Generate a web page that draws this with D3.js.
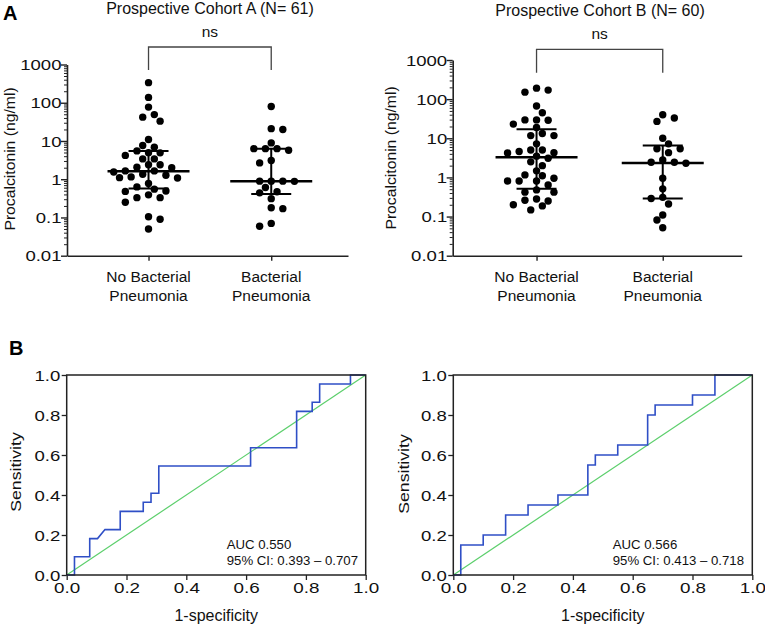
<!DOCTYPE html>
<html>
<head>
<meta charset="utf-8">
<script src="https://cdn.jsdelivr.net/npm/d3@7"></script>
<style>
  html, body { margin: 0; padding: 0; background: #fff; }
  svg { display: block; font-family: "Liberation Sans", Arial, Helvetica, sans-serif; }
</style>
</head>
<body>
<svg id="chart" width="765" height="628"></svg>
<script>
// ---------------- DATA ----------------
const categories = ["No Bacterial|Pneumonia", "Bacterial|Pneumonia"];
const cohortTitles = ["Prospective Cohort A (N= 61)", "Prospective Cohort B (N= 60)"];
const sigLabels = ["ns", "ns"];

const cohortA_noBac = [335, 138, 77, 49, 42, 33, 10.9, 7.6, 6.9, 5.5, 4.95, 4.9, 4.2, 3.4, 3.4, 2.4, 2.4, 2.05, 2.0, 1.65,
  1.65, 1.55, 1.35, 1.27, 1.15, 1.1, 1.08, 0.77, 0.63, 0.55, 0.49, 0.48, 0.39, 0.33, 0.33, 0.25, 0.104, 0.09, 0.05];
const cohortA_bac = [80, 21, 20, 8.9, 6.3, 6.3, 6.3, 5.7, 3.1, 2.67, 0.89, 0.89, 0.89, 0.88, 0.61, 0.47, 0.44, 0.31,
  0.18, 0.17, 0.07, 0.059];
const cohortB_noBac = [191, 170, 151, 67, 45, 29.5, 29.5, 29, 23, 18.8, 13.2, 11.7, 11.7, 7.2, 5, 5, 4.6, 4.3, 4.2, 3.5,
  3.1, 2.5, 2.0, 1.47, 1.16, 1.1, 0.95, 0.81, 0.81, 0.81, 0.64, 0.48, 0.42, 0.42, 0.28, 0.26, 0.25, 0.2, 0.187, 0.148];
const cohortB_bac = [40, 33, 27, 10, 7.2, 5.4, 5.4, 4.3, 2.8, 2.45, 2.45, 2.3, 0.95, 0.51, 0.31, 0.29, 0.21, 0.11, 0.082, 0.052];

// median and interquartile range per category (No Bacterial, Bacterial)
const cohortA_median = [1.62, 0.89];
const cohortA_q1 = [0.57, 0.41];
const cohortA_q3 = [5.5, 6.3];
const cohortB_median = [3.3, 2.35];
const cohortB_q1 = [0.51, 0.29];
const cohortB_q3 = [17, 6.5];

const logTickValues = [0.01, 0.1, 1, 10, 100, 1000];
const logTickLabels = ["0.01", "0.1", "1", "10", "100", "1000"];

// ROC curves (1-specificity, sensitivity)
const rocA_fpr = [0, 0.026, 0.026, 0.077, 0.077, 0.103, 0.128, 0.179, 0.179, 0.256, 0.256, 0.282, 0.282, 0.308, 0.308,
  0.615, 0.615, 0.769, 0.769, 0.821, 0.821, 0.846, 0.846, 0.949, 0.949, 1];
const rocA_tpr = [0, 0, 0.091, 0.091, 0.182, 0.182, 0.227, 0.227, 0.318, 0.318, 0.364, 0.364, 0.409, 0.409, 0.545,
  0.545, 0.636, 0.636, 0.818, 0.818, 0.864, 0.864, 0.955, 0.955, 1, 1];
const rocB_fpr = [0, 0.025, 0.025, 0.1, 0.1, 0.175, 0.175, 0.25, 0.25, 0.35, 0.35, 0.45, 0.45, 0.475, 0.475, 0.55, 0.55,
  0.65, 0.65, 0.675, 0.675, 0.8, 0.8, 0.875, 0.875, 1];
const rocB_tpr = [0, 0, 0.15, 0.15, 0.2, 0.2, 0.3, 0.3, 0.35, 0.35, 0.4, 0.4, 0.55, 0.55, 0.6, 0.6, 0.65, 0.65, 0.8, 0.8,
  0.85, 0.85, 0.9, 0.9, 1, 1];
const rocTicks = [0, 0.2, 0.4, 0.6, 0.8, 1.0];
const aucLabels = ["AUC 0.550", "AUC 0.566"];
const ciLabels = ["95% CI: 0.393 \u2013 0.707", "95% CI: 0.413 \u2013 0.718"];

// ---------------- LAYOUT ----------------
const svg = d3.select("#chart");
const FONT_TICK = 14.5, TICK_SX = 1.28, FONT_LABEL = 15.5;
const INK = "#111";

const scatterPanels = [
  { left: 67, right: 348, top: 64.5, bottom: 255.7, title: cohortTitles[0], titleX: 210, titleY: 14,
    nsY: 37, bracketY: 47, bracketBottom: 70, ylabX: 14.5, ylabY: 159,
    groups: [cohortA_noBac, cohortA_bac], med: cohortA_median, q1: cohortA_q1, q3: cohortA_q3, sig: sigLabels[0] },
  { left: 452.7, right: 741.7, top: 60, bottom: 255.7, title: cohortTitles[1], titleX: 600, titleY: 16,
    nsY: 39, bracketY: 49.3, bracketBottom: 72.7, ylabX: 396, ylabY: 158,
    groups: [cohortB_noBac, cohortB_bac], med: cohortB_median, q1: cohortB_q1, q3: cohortB_q3, sig: sigLabels[1] }
];

function beeswarm(values, y, cx) {
  const step = 5.8, D = 7.6;
  const placed = [];
  const sorted = values.slice().sort((a, b) => b - a);
  const out = [];
  let flip = 1;
  sorted.forEach(v => {
    const yy = y(v);
    let done = false;
    for (let k = 0; k < 60 && !done; k++) {
      const offs = k === 0 ? [0] : [flip * k * step, -flip * k * step];
      for (const o of offs) {
        if (placed.every(p => (p.x - o) ** 2 + (p.y - yy) ** 2 >= D * D)) {
          placed.push({ x: o, y: yy });
          out.push({ v, x: cx + o, y: yy });
          if (o !== 0) flip = -flip;
          done = true;
          break;
        }
      }
    }
  });
  return out;
}

function styleLeftTickText(s, gap) {
  s.selectAll("text").attr("font-size", FONT_TICK).attr("fill", INK)
    .attr("font-family", "Liberation Sans, Arial, sans-serif")
    .attr("x", 0).attr("dy", "0.36em")
    .attr("transform", `translate(${-gap},0) scale(${TICK_SX},1)`);
}

scatterPanels.forEach(P => {
  const g = svg.append("g");
  const y = d3.scaleLog().domain([0.01, 1000]).range([P.bottom, P.top]);
  const x = d3.scalePoint().domain(categories).range([P.left, P.right]).padding(0.645).align(0.515);

  // minor ticks
  const minor = [];
  for (let e = -2; e < 3; e++) for (let m = 2; m <= 9; m++) minor.push(m * Math.pow(10, e));
  g.append("g").attr("transform", `translate(${P.left},0)`)
    .call(d3.axisLeft(y).tickValues(minor).tickSize(3).tickFormat(""))
    .call(s => s.select(".domain").remove())
    .call(s => s.selectAll("line").attr("stroke", "#222").attr("stroke-width", 1));
  // major ticks
  g.append("g").attr("transform", `translate(${P.left},0)`)
    .call(d3.axisLeft(y).tickValues(logTickValues).tickSize(6).tickSizeOuter(0)
      .tickFormat((d, i) => logTickLabels[i]))
    .call(s => s.select(".domain").attr("stroke", "#222").attr("stroke-width", 1.6))
    .call(s => s.selectAll("line").attr("stroke", "#222").attr("stroke-width", 1.4))
    .call(s => styleLeftTickText(s, 5.5));
  // x axis
  g.append("g").attr("transform", `translate(0,${P.bottom})`)
    .call(d3.axisBottom(x).tickSize(5).tickSizeOuter(0).tickFormat(""))
    .call(s => s.select(".domain").attr("stroke", "#222").attr("stroke-width", 1.6))
    .call(s => s.selectAll("line").attr("stroke", "#222").attr("stroke-width", 1.4));
  // category labels
  categories.forEach(c => {
    const lines = c.split("|");
    const t = g.append("text").attr("x", x(c)).attr("y", P.bottom + 26.5).attr("text-anchor", "middle")
      .attr("font-size", FONT_LABEL).attr("fill", INK);
    t.append("tspan").attr("x", x(c)).text(lines[0]);
    t.append("tspan").attr("x", x(c)).attr("dy", 18.5).text(lines[1]);
  });
  // y label
  g.append("text").attr("transform", `translate(${P.ylabX},${P.ylabY}) rotate(-90) scale(1.1,1)`)
    .attr("text-anchor", "middle").attr("font-size", 14.3).attr("fill", INK)
    .text("Procalcitonin (ng/ml)");
  // title
  g.append("text").attr("x", P.titleX).attr("y", P.titleY).attr("text-anchor", "middle")
    .attr("font-size", 16).attr("fill", INK).text(P.title);
  // significance bracket
  const x0 = x(categories[0]), x1 = x(categories[1]);
  g.append("path").attr("d", d3.line()([[x0, P.bracketBottom], [x0, P.bracketY], [x1, P.bracketY], [x1, P.bracketBottom]]))
    .attr("fill", "none").attr("stroke", "#444").attr("stroke-width", 1.3);
  g.append("text").attr("x", (x0 + x1) / 2).attr("y", P.nsY).attr("text-anchor", "middle")
    .attr("font-size", FONT_LABEL).attr("fill", INK).text(P.sig);

  // dots
  P.groups.forEach((vals, i) => {
    const cx = x(categories[i]);
    const pts = beeswarm(vals, y, cx);
    g.append("g").selectAll("circle").data(pts).join("circle")
      .attr("cx", d => d.x).attr("cy", d => d.y).attr("r", 3.7).attr("fill", "#000");
    // median + IQR
    const s = g.append("g").attr("stroke", "#000").attr("fill", "none");
    s.append("line").attr("x1", cx).attr("x2", cx).attr("y1", y(P.q1[i])).attr("y2", y(P.q3[i])).attr("stroke-width", 2);
    s.append("line").attr("x1", cx - 20).attr("x2", cx + 20).attr("y1", y(P.q1[i])).attr("y2", y(P.q1[i])).attr("stroke-width", 2);
    s.append("line").attr("x1", cx - 20).attr("x2", cx + 20).attr("y1", y(P.q3[i])).attr("y2", y(P.q3[i])).attr("stroke-width", 2);
    s.append("line").attr("x1", cx - 41).attr("x2", cx + 41).attr("y1", y(P.med[i])).attr("y2", y(P.med[i])).attr("stroke-width", 2.5);
  });
});

// panel letters
svg.append("text").attr("x", 3).attr("y", 20).attr("font-size", 20).attr("font-weight", "bold").attr("fill", "#000").text("A");
svg.append("text").attr("x", 9).attr("y", 355).attr("font-size", 20).attr("font-weight", "bold").attr("fill", "#000").text("B");

// ---------------- ROC ----------------
const rocPanels = [
  { left: 66.7, right: 365.7, top: 375, bottom: 575, fpr: rocA_fpr, tpr: rocA_tpr, auc: aucLabels[0], ci: ciLabels[0],
    textX: 226.7, ylabX: 21, ylabY: 472 },
  { left: 453.3, right: 752.3, top: 375, bottom: 575, fpr: rocB_fpr, tpr: rocB_tpr, auc: aucLabels[1], ci: ciLabels[1],
    textX: 612.7, ylabX: 409, ylabY: 474 }
];

rocPanels.forEach(P => {
  const g = svg.append("g");
  const x = d3.scaleLinear().domain([0, 1]).range([P.left, P.right]);
  const y = d3.scaleLinear().domain([0, 1]).range([P.bottom, P.top]);

  g.append("g").attr("transform", `translate(0,${P.bottom})`)
    .call(d3.axisBottom(x).tickValues(rocTicks).tickSize(5).tickSizeOuter(0).tickFormat(d3.format(".1f")))
    .call(s => s.select(".domain").remove())
    .call(s => s.selectAll("line").attr("stroke", "#222").attr("stroke-width", 1.3))
    .call(s => s.selectAll("text").attr("font-size", FONT_TICK).attr("fill", INK)
      .attr("font-family", "Liberation Sans, Arial, sans-serif").attr("y", 8)
      .attr("transform", `scale(${TICK_SX + 0.02},1)`));
  g.append("g").attr("transform", `translate(${P.left},0)`)
    .call(d3.axisLeft(y).tickValues(rocTicks).tickSize(5).tickSizeOuter(0).tickFormat(d3.format(".1f")))
    .call(s => s.select(".domain").remove())
    .call(s => s.selectAll("line").attr("stroke", "#222").attr("stroke-width", 1.3))
    .call(s => styleLeftTickText(s, 6.5));

  // diagonal reference
  g.append("path").attr("d", d3.line().x(d => x(d)).y(d => y(d))([0, 1]))
    .attr("stroke", "#5ccf6c").attr("stroke-width", 1.2).attr("fill", "none");
  // ROC curve
  const pts = P.fpr.map((f, i) => [f, P.tpr[i]]);
  g.append("path").attr("d", d3.line().x(d => x(d[0])).y(d => y(d[1]))(pts))
    .attr("stroke", "#2f4fc6").attr("stroke-width", 1.6).attr("fill", "none");
  // frame
  g.append("rect").attr("x", P.left).attr("y", P.top).attr("width", P.right - P.left).attr("height", P.bottom - P.top)
    .attr("fill", "none").attr("stroke", "#222").attr("stroke-width", 1.5);

  g.append("text").attr("transform", `translate(${P.textX},549) scale(1.1,1)`)
    .attr("font-size", 12).attr("fill", INK).text(P.auc);
  g.append("text").attr("transform", `translate(${P.textX},565) scale(1.1,1)`)
    .attr("font-size", 12).attr("fill", INK).text(P.ci);

  g.append("text").attr("x", (P.left + P.right) / 2).attr("y", 621).attr("text-anchor", "middle")
    .attr("font-size", 16).attr("fill", INK).text("1-specificity");
  g.append("text").attr("transform", `translate(${P.ylabX},${P.ylabY}) rotate(-90) scale(1.18,1)`)
    .attr("text-anchor", "middle").attr("font-size", 15).attr("fill", INK).text("Sensitivity");
});
</script>
</body>
</html>
